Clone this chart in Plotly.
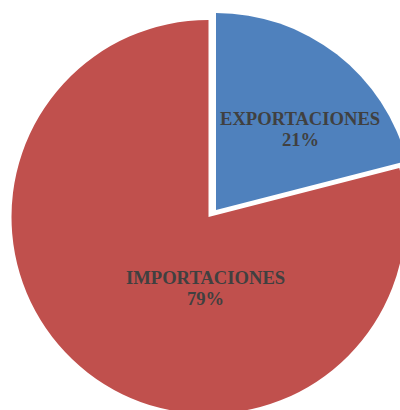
import plotly.graph_objects as go

# ---- data ----
labels = ["EXPORTACIONES", "IMPORTACIONES"]
values = [21, 79]
colors = ["#4F81BD", "#C0504D"]

# ---- layout geometry (pixels) ----
W, H = 415, 420
R = 197
red_c = (208.5, 217.0)
blue_c = (216.0, 210.0)
CLEAR = "rgba(0,0,0,0)"


def dom(c):
    cx, cy = c
    return dict(x=[(cx - R) / W, (cx + R) / W],
                y=[(H - (cy + R)) / H, (H - (cy - R)) / H])


fig = go.Figure()
# importaciones slice (base pie)
fig.add_trace(go.Pie(
    labels=labels, values=values, sort=False, direction="clockwise", rotation=0,
    marker=dict(colors=[CLEAR, colors[1]], line=dict(width=0)),
    textinfo="none", hoverinfo="label+percent", domain=dom(red_c), showlegend=False,
))
# exportaciones slice (exploded)
fig.add_trace(go.Pie(
    labels=labels, values=values, sort=False, direction="clockwise", rotation=0,
    marker=dict(colors=[colors[0], CLEAR], line=dict(width=0)),
    textinfo="none", hoverinfo="label+percent", domain=dom(blue_c), showlegend=False,
))

total = sum(values)
# (x, y of label line, y of percent line)
label_pos = [(300, 118.5, 140), (205, 277.5, 298.5)]
font = dict(family="Liberation Serif, Times New Roman, serif", size=18.6, color="#404040")
for lab, val, (px, py1, py2) in zip(labels, values, label_pos):
    for txt, py in ((lab, py1), (f"{round(100 * val / total)}%", py2)):
        fig.add_annotation(
            x=px / W, y=1 - py / H, xref="paper", yref="paper",
            text=f"<b>{txt}</b>",
            showarrow=False, xanchor="center", yanchor="middle", align="center",
            font=font,
        )

fig.update_layout(
    width=W, height=H, margin=dict(l=0, r=0, t=0, b=0),
    paper_bgcolor="white", plot_bgcolor="white",
)

fig.write_html(
    "out.html",
    config={"displayModeBar": False},
    post_script="document.body.style.margin='0';document.body.style.overflow='hidden';document.documentElement.style.overflow='hidden';",
)
